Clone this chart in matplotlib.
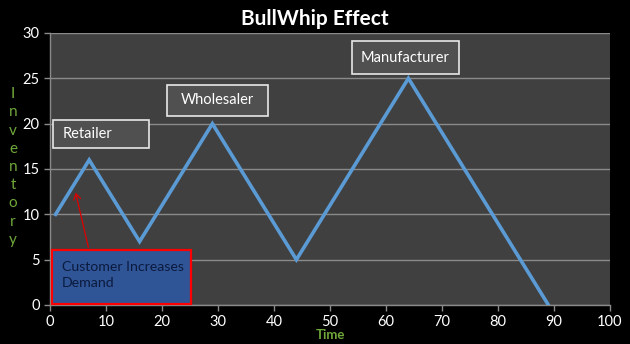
import matplotlib
matplotlib.use("Agg")
import matplotlib.pyplot as plt
from matplotlib.patches import Rectangle, FancyArrowPatch

time = [1, 7, 16, 29, 44, 64, 89]
inventory = [10, 16, 7, 20, 5, 25, 0]
x_ticks = [0, 10, 20, 30, 40, 50, 60, 70, 80, 90, 100]
y_ticks = [0, 5, 10, 15, 20, 25, 30]
title = "BullWhip Effect"
labels = ["Retailer", "Wholesaler", "Manufacturer"]
note = "Customer Increases\nDemand"

plt.rcParams['font.family'] = ['Lato', 'DejaVu Sans']
W, H = 630, 344
fig = plt.figure(figsize=(6.3, 3.44), dpi=100, facecolor='black')
ax = fig.add_axes([50 / W, 1 - 305 / H, 560 / W, 272 / H])
ax.set_facecolor('#404040')
ax.plot(time, inventory, color='#5B9BD5', lw=2.6, solid_joinstyle='miter', zorder=3)
ax.set_xlim(0, 100)
ax.set_ylim(0, 30)
ax.set_xticks(x_ticks)
ax.set_yticks(y_ticks)
ax.grid(axis='y', color='#8a8a8a', lw=1)
ax.set_axisbelow(True)
for s in ['top', 'right']:
    ax.spines[s].set_visible(False)
for s in ['left', 'bottom']:
    ax.spines[s].set_color('#8a8a8a')
    ax.spines[s].set_linewidth(1)
ax.tick_params(colors='#8a8a8a', labelcolor='white', labelsize=10.5, length=4, width=1)

fig.text(315 / W, 1 - 19 / H, title, color='white', fontsize=15, fontweight='bold', ha='center', va='center')
fig.text(330 / W, 1 - 335 / H, 'Time', color='#6FA83A', fontsize=9.5, fontweight='bold', ha='center', va='center')
fig.text(13 / W, 1 - 167 / H, '\n'.join('Inventory'), color='#6FA83A', fontsize=11, ha='center', va='center', linespacing=1.38)

def pxbox(x0, y0, x1, y1, fc, ec, lw):
    r = Rectangle((x0 / W, 1 - y1 / H), (x1 - x0) / W, (y1 - y0) / H, transform=fig.transFigure,
                  facecolor=fc, edgecolor=ec, lw=lw, zorder=5)
    fig.add_artist(r)

boxes = [(53, 120, 149, 148), (167, 85, 268, 116), (352, 41, 459, 74)]
for (x0, y0, x1, y1), lab in zip(boxes, labels):
    pxbox(x0, y0, x1, y1, '#505050', '#e8e8e8', 1.2)
    tx = x0 + 10 if lab == 'Retailer' else (x0 + x1) / 2
    fig.text(tx / W, 1 - (y0 + y1) / 2 / H, lab, color='white', fontsize=10.5,
             ha='left' if lab == 'Retailer' else 'center', va='center', zorder=6)

pxbox(52, 250, 191, 304, '#2F5597', '#ff0000', 1.6)
fig.text(62 / W, 1 - 275 / H, note, color='#0c1a3e', fontsize=10.2, ha='left', va='center',
         linespacing=1.35, zorder=6)

fig.add_artist(FancyArrowPatch((89 / W, 1 - 250 / H), (75 / W, 1 - 190 / H),
               transform=fig.transFigure, arrowstyle='->,head_length=4,head_width=2.5',
               color='#e00000', lw=0.9, zorder=4))

fig.savefig('out.png', dpi=100, facecolor='black')
